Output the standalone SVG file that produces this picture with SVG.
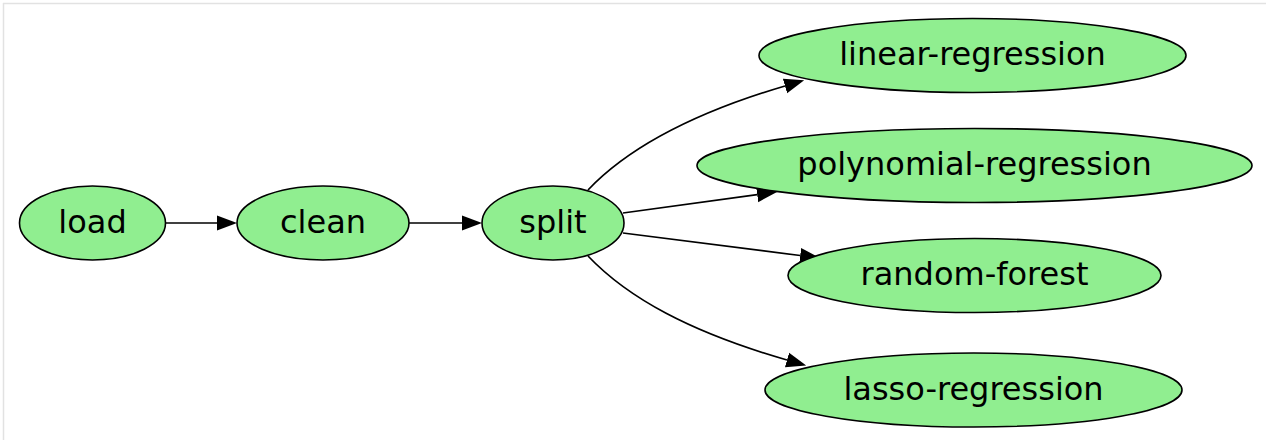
<svg xmlns="http://www.w3.org/2000/svg" width="1266" height="440" viewBox="0 0 1266 440">
  <style>
    .node ellipse { fill: #90ee90; stroke: #000000; stroke-width: 1.6; }
    .node text { font-family: "DejaVu Sans", "Liberation Sans", sans-serif; font-size: 32px; fill: #000000; text-anchor: middle; }
    .edge { fill: none; stroke: #000000; stroke-width: 1.7; marker-end: url(#arrow); }
  </style>
  <defs>
    <marker id="arrow" viewBox="0 -8 20 16" refX="0" refY="0" markerWidth="20" markerHeight="16" markerUnits="userSpaceOnUse" orient="auto">
      <path d="M0,-7.5 L20,0 L0,7.5 z" fill="#000000"/>
    </marker>
  </defs>

  <rect width="1266" height="440" fill="#ffffff"/>
  <!-- frame lines -->
  <line x1="3" y1="3.5" x2="1266" y2="3.5" stroke="#e2e2e2" stroke-width="1.5"/>
  <line x1="3.5" y1="3" x2="3.5" y2="440" stroke="#e2e2e2" stroke-width="1.5"/>

  <g id="connectors">
    <path class="edge" d="M166,223 H217"/>
    <path class="edge" d="M409,223 H462"/>
    <path class="edge" d="M588,190 C628,148 690,114 785,86"/>
    <path class="edge" d="M623,213 L757.2,194.7"/>
    <path class="edge" d="M623,233 L800.2,255.5"/>
    <path class="edge" d="M588,256 C628,298 690,332 787,360"/>
  </g>

  <g id="load" class="node">
    <ellipse cx="92.5" cy="223" rx="73" ry="37"/>
    <text x="92.5" y="232.5">load</text>
  </g>
  <g id="clean" class="node">
    <ellipse cx="323" cy="223" rx="86" ry="37"/>
    <text x="323" y="232.5">clean</text>
  </g>
  <g id="split" class="node">
    <ellipse cx="553" cy="223" rx="71" ry="37"/>
    <text x="553" y="232.5">split</text>
  </g>
  <g id="linear-regression" class="node">
    <ellipse cx="972.5" cy="55.5" rx="213.5" ry="37"/>
    <text x="972.5" y="65">linear-regression</text>
  </g>
  <g id="polynomial-regression" class="node">
    <ellipse cx="974.5" cy="165.5" rx="277.5" ry="37"/>
    <text x="974.5" y="175">polynomial-regression</text>
  </g>
  <g id="random-forest" class="node">
    <ellipse cx="974.5" cy="275.5" rx="186.5" ry="37"/>
    <text x="974.5" y="285">random-forest</text>
  </g>
  <g id="lasso-regression" class="node">
    <ellipse cx="973.5" cy="390" rx="208.5" ry="37"/>
    <text x="973.5" y="399.5">lasso-regression</text>
  </g>
</svg>
